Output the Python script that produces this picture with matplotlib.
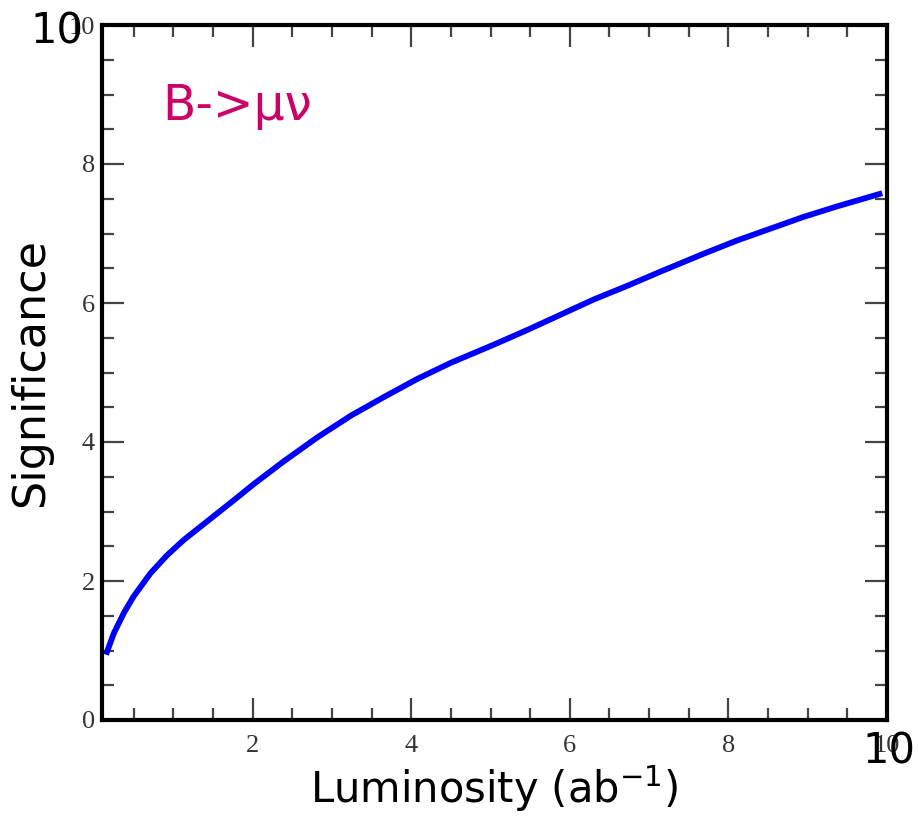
import matplotlib
matplotlib.use("Agg")
import matplotlib.pyplot as plt
from matplotlib.ticker import MultipleLocator

# Data
luminosity = [0.15, 0.25, 0.38, 0.50, 0.71, 0.92, 1.13, 1.34, 1.55, 1.76, 2.02,
              2.39, 2.82, 3.24, 3.66, 4.08, 4.50, 5.04, 5.46, 5.88, 6.30, 6.73,
              7.14, 7.69, 8.11, 8.53, 8.95, 9.37, 9.94]
significance = [0.94, 1.25, 1.55, 1.78, 2.11, 2.37, 2.59, 2.78, 2.97, 3.16, 3.40,
                3.72, 4.07, 4.38, 4.65, 4.91, 5.14, 5.40, 5.61, 5.83, 6.05, 6.25,
                6.45, 6.71, 6.90, 7.07, 7.24, 7.39, 7.58]
x_ticks = [2, 4, 6, 8, 10]
x_tick_labels = ["2", "4", "6", "8", "10"]
y_ticks = [0, 2, 4, 6, 8, 10]
y_tick_labels = ["0", "2", "4", "6", "8", "10"]

fig = plt.figure(figsize=(9.18, 8.16), dpi=100)
ax = fig.add_axes([102/918, 1-720/816, (887-102)/918, (720-25)/816])

ax.plot(luminosity, significance, color="#0000ff", lw=4.2,
        solid_capstyle="butt", solid_joinstyle="round")

ax.set_xlim(0.1, 10)
ax.set_ylim(0, 10)
ax.set_xticks(x_ticks)
ax.set_xticklabels(x_tick_labels)
ax.set_yticks(y_ticks)
ax.set_yticklabels(y_tick_labels)
ax.xaxis.set_minor_locator(MultipleLocator(0.5))
ax.yaxis.set_minor_locator(MultipleLocator(0.5))
ax.tick_params(which="both", direction="in", top=True, right=True,
               color="#444444", width=1.6)
ax.tick_params(which="major", length=16)
ax.tick_params(which="minor", length=8.5)
ax.tick_params(axis="x", which="major", pad=11)
ax.tick_params(axis="y", which="major", pad=5)
for lab in ax.get_xticklabels() + ax.get_yticklabels():
    lab.set_fontfamily("Liberation Serif")
    lab.set_fontsize(19)
    lab.set_color("#333333")
for sp in ax.spines.values():
    sp.set_linewidth(3)
    sp.set_color("black")

ax.set_xlabel("Luminosity (ab$^{-1}$)", fontsize=30, family="DejaVu Sans", labelpad=4)
ax.set_ylabel("Significance", fontsize=32, family="DejaVu Sans", labelpad=12)

ax.text(0.077, 0.884, "B->μν", transform=ax.transAxes, fontsize=35,
        color="#cc0066", family="DejaVu Sans", va="center", ha="left")

# Large overlay "10" labels
fig.text(57/918, 1-32/816, "10", fontsize=30, family="DejaVu Sans",
         ha="center", va="center", color="black")
fig.text(889/918, 1-752/816, "10", fontsize=30, family="DejaVu Sans",
         ha="center", va="center", color="black")

fig.savefig("out.png", dpi=100)
